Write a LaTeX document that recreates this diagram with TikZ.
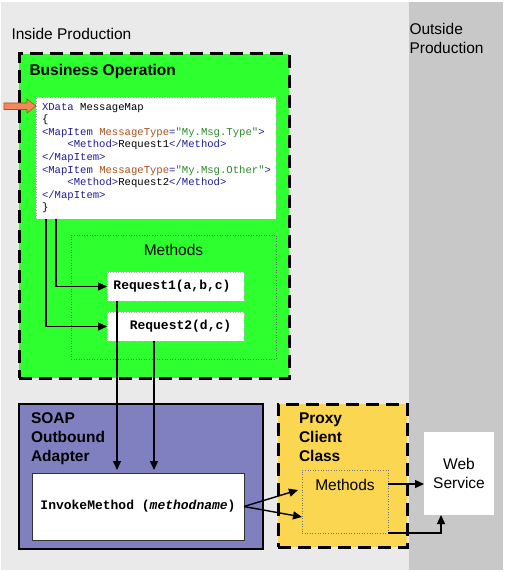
\documentclass[tikz,border=0pt]{standalone}
\usepackage{fontspec}
\setmainfont{Liberation Sans}
\setmonofont{Liberation Mono}
\usetikzlibrary{arrows.meta}
\definecolor{bgl}{HTML}{EAEAEA}
\definecolor{bgr}{HTML}{C8C8C8}
\definecolor{bogreen}{HTML}{2EFF2E}
\definecolor{soapblue}{HTML}{8080C0}
\definecolor{proxyyel}{HTML}{FAD651}
\definecolor{orgfill}{HTML}{F7885A}
\definecolor{orgline}{HTML}{B04A20}
\definecolor{xblue}{HTML}{1E1E96}
\definecolor{xbrown}{HTML}{A5521C}
\definecolor{xgreen}{HTML}{2A8A2A}
\definecolor{dotgray}{HTML}{8A8A8A}
\tikzset{
  box/.style={rectangle, inner sep=0pt, outer sep=0pt, anchor=north west},
  bigdash/.style={draw=black, line width=3pt, dash pattern=on 13pt off 7pt},
  dotbox/.style={draw=dotgray, line width=0.6pt, dotted},
  lbl/.style={inner sep=0pt, outer sep=0pt, font=\fontsize{15.5}{19}\selectfont},
  blbl/.style={inner sep=0pt, outer sep=0pt, align=left, font=\fontsize{15.5}{19}\selectfont\bfseries},
  codetxt/.style={inner sep=0pt, outer sep=0pt, align=left, font=\fontsize{10.6}{12.6}\selectfont\ttfamily},
  reqtxt/.style={font=\fontsize{13}{15}\selectfont\ttfamily\bfseries},
  arr/.style={-{Triangle[length=9pt,width=8pt]}, line width=1.4pt},
}
\begin{document}
\begin{tikzpicture}[x=1pt,y=-1pt]
\useasboundingbox (0,0) rectangle (505,572);
\fill[white] (0,0) rectangle (505,572);
\fill[bgl] (1,2) rectangle (409,570);
\fill[bgr] (409,2) rectangle (503,570);

% region labels
\node[lbl, anchor=base west] (inlbl) at (11.5,39.5) {Inside Production};
\node[lbl, anchor=north west, align=left] (outlbl) at (409.5,23.7) {Outside\\Production};

% Business Operation
\node[box, fill=bogreen, bigdash, minimum width=270pt, minimum height=324pt] (bo) at (19,54) {};
\node[blbl, anchor=base west] (bolbl) at (29.5,76) {Business Operation};

% XData box
\node[box, fill=white, dotbox, draw=dotgray!70, minimum width=240pt, minimum height=122pt] (xdata) at (36,97) {};
\node[codetxt, anchor=north west] (code) at (42,103) {%
\textcolor{xblue}{XData} MessageMap\\
\{\\
\textcolor{xblue}{<MapItem} \textcolor{xbrown}{MessageType}\textcolor{xblue}{=}\textcolor{xgreen}{"My.Msg.Type"}\textcolor{xblue}{>}\\
\hphantom{MMMM}\textcolor{xblue}{<Method>}Request1\textcolor{xblue}{</Method>}\\
\textcolor{xblue}{</MapItem>}\\
\textcolor{xblue}{<MapItem} \textcolor{xbrown}{MessageType}\textcolor{xblue}{=}\textcolor{xgreen}{"My.Msg.Other"}\textcolor{xblue}{>}\\
\hphantom{MMMM}\textcolor{xblue}{<Method>}Request2\textcolor{xblue}{</Method>}\\
\textcolor{xblue}{</MapItem>}\\
\}};
\filldraw[fill=orgfill, draw=orgline, line width=0.6pt]
  (4,103) -- (27,103) -- (27,99) -- (36,106) -- (27,113) -- (27,109.5) -- (4,109.5) -- cycle;

% Methods box in business operation
\node[box, dotbox, draw=black!60, minimum width=205pt, minimum height=124pt] (bmeth) at (71,235) {};
\node[lbl, anchor=base] (bmlbl) at (173.5,255) {Methods};
\node[box, fill=white, dotbox, draw=dotgray!60, minimum width=137pt, minimum height=29pt, reqtxt] (req1) at (107,272) {Request1(a,b,c)\hspace*{7pt}};
\node[box, fill=white, dotbox, draw=dotgray!60, minimum width=137pt, minimum height=29pt, reqtxt] (req2) at (107,312) {\hspace*{10pt}Request2(d,c)};

% SOAP adapter
\node[box, fill=soapblue, draw=black, line width=2.5pt, minimum width=244pt, minimum height=145pt] (soap) at (19,404) {};
\node[blbl, anchor=north west] (soaplbl) at (31,413) {SOAP\\Outbound\\Adapter};
\node[box, fill=white, draw=black!80, line width=0.8pt, minimum width=212pt, minimum height=67pt, reqtxt] (invoke) at (32,473) {InvokeMethod (\textit{methodname})};

% Proxy client class
\node[box, fill=proxyyel, bigdash, minimum width=129pt, minimum height=143pt] (proxy) at (278,404) {};
\node[blbl, anchor=north west] (proxylbl) at (299,413) {Proxy\\Client\\Class};
\node[box, dotbox, draw=black!55, minimum width=86pt, minimum height=63pt] (pmeth) at (302,470) {};
\node[lbl, anchor=base] (pmlbl) at (345,490) {Methods};

% Web service
\node[box, fill=white, minimum width=70pt, minimum height=83pt, lbl, align=center] (web) at (424,432) {Web\\Service};

% connectors
\draw[arr] ([xshift=20pt]xdata.south west) |- (req1.west);
\draw[arr] ([xshift=10pt]xdata.south west) |- (req2.west);
\path ([xshift=10pt]req1.south west) coordinate (r1s);
\path ([xshift=47pt]req2.south west) coordinate (r2s);
\draw[arr, shorten >=3pt] (r1s) -- (r1s |- invoke.north);
\draw[arr, shorten >=3pt] (r2s) -- (r2s |- invoke.north);
\draw[arr] (invoke.east) -- ([xshift=-4pt,yshift=11.5pt]pmeth.west);
\draw[arr] (invoke.east) -- ([yshift=-15.5pt]pmeth.west);
\path ([yshift=-14pt]pmeth.north east) coordinate (pmr);
\draw[arr] (pmr) -- (pmr -| web.west);
\draw[arr] (pmeth.south east) -| ([xshift=17pt]web.south west);
\end{tikzpicture}
\end{document}
